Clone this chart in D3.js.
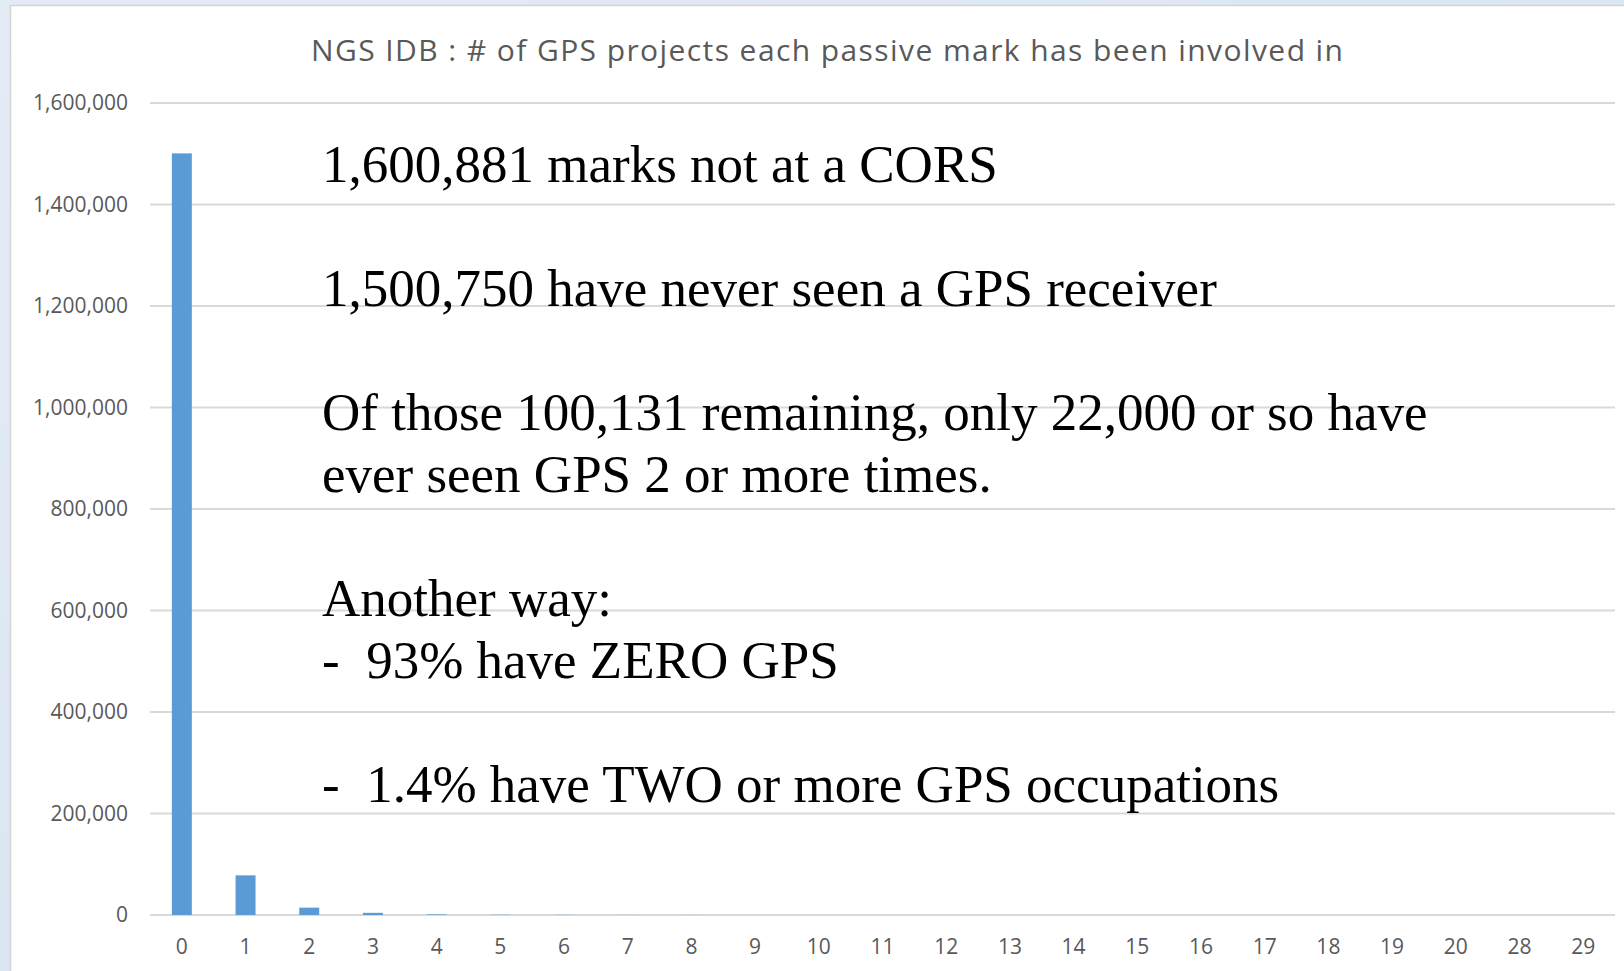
<!DOCTYPE html>
<html>
<head>
<meta charset="utf-8">
<script src="https://cdn.jsdelivr.net/npm/d3@7"></script>
<style>
  body { margin: 0; background: #ffffff; }
  svg { display: block; }
</style>
</head>
<body>
<div class="container"></div>
<script>
// data
const categories = ["0", "1", "2", "3", "4", "5", "6", "7", "8", "9", "10", "11", "12", "13", "14", "15", "16", "17", "18", "19", "20", "28", "29"];
const marks = [1500750, 78131, 14500, 4300, 1200, 500, 300, 200, 120, 70, 40, 25, 15, 10, 6, 4, 3, 2, 2, 1, 1, 1, 1];
const yTicks = [0, 200000, 400000, 600000, 800000, 1000000, 1200000, 1400000, 1600000];
const title = "NGS IDB : # of GPS projects each passive mark has been involved in";
const notes = [
    "1,600,881 marks not at a CORS",
    "",
    "1,500,750 have never seen a GPS receiver",
    "",
    "Of those 100,131 remaining, only 22,000 or so have",
    "ever seen GPS 2 or more times.",
    "",
    "Another way:",
    "-  93% have ZERO GPS",
    "",
    "-  1.4% have TWO or more GPS occupations"
];

const width = 1624, height = 971;
const svg = d3.select(".container")
              .append("svg")
              .attr("width", width)
              .attr("height", height);

// slide background behind the chart
const grad = svg.append("defs")
                .append("linearGradient")
                .attr("id", "slide")
                .attr("x1", 0).attr("y1", 0)
                .attr("x2", 1).attr("y2", 1);
grad.append("stop").attr("offset", 0).attr("stop-color", "#e3ebf5");
grad.append("stop").attr("offset", 1).attr("stop-color", "#d5e2f0");
svg.append("rect")
   .attr("width", width)
   .attr("height", height)
   .attr("fill", "url(#slide)");
svg.append("rect")
   .attr("x", 10.5)
   .attr("y", 5.5)
   .attr("width", width)
   .attr("height", height)
   .attr("fill", "#ffffff")
   .attr("stroke", "#d4d4d4")
   .attr("stroke-width", 1.5);

const x = d3.scaleBand()
            .domain(categories)
            .range([150, 1615])
            .paddingInner(0.6865)
            .paddingOuter(0.3433);
const y = d3.scaleLinear()
            .domain([0, 1600000])
            .range([915, 103]);

// gridlines
svg.append("g")
   .selectAll("line")
   .data(yTicks)
   .join("line")
   .attr("x1", 150)
   .attr("x2", 1615)
   .attr("y1", d => y(d))
   .attr("y2", d => y(d))
   .attr("stroke", "#d9d9d9")
   .attr("stroke-width", 2);

// y axis labels
const yAxis = svg.append("g")
                 .attr("transform", "translate(128,0)")
                 .call(d3.axisLeft(y).tickValues(yTicks).tickFormat(d3.format(",")).tickSize(0).tickPadding(0));
yAxis.select(".domain").remove();
yAxis.selectAll("text")
     .attr("fill", "#595959")
     .style("font-family", "'Open Sans', sans-serif")
     .style("font-size", "21px");

// x axis labels
const xAxis = svg.append("g")
                 .attr("transform", "translate(0,939)")
                 .call(d3.axisBottom(x).tickSize(0).tickPadding(0));
xAxis.select(".domain").remove();
xAxis.selectAll("text")
     .attr("fill", "#595959")
     .style("font-family", "'Open Sans', sans-serif")
     .style("font-size", "21px");

// bars
svg.append("g")
   .selectAll("rect")
   .data(marks)
   .join("rect")
   .attr("x", (d, i) => x(categories[i]))
   .attr("width", x.bandwidth())
   .attr("y", d => y(d))
   .attr("height", d => y(0) - y(d))
   .attr("fill", "#5b9bd5");

// chart title (the original font is narrow and loosely spaced)
svg.append("text")
   .attr("x", 827)
   .attr("y", 61)
   .attr("text-anchor", "middle")
   .attr("fill", "#595959")
   .attr("textLength", 1032)
   .attr("lengthAdjust", "spacing")
   .style("font-family", "'Open Sans', sans-serif")
   .style("font-size", "30px")
   .text(title);

// text box laid over the plot
const lineHeight = 62;
svg.append("g")
   .selectAll("text")
   .data(notes)
   .join("text")
   .attr("x", 322)
   .attr("y", (d, i) => 182 + i * lineHeight)
   .attr("fill", "#000000")
   .style("font-family", "'Liberation Serif', 'Times New Roman', serif")
   .style("font-size", "53px")
   .style("white-space", "pre")
   .text(d => d);
</script>
</body>
</html>
